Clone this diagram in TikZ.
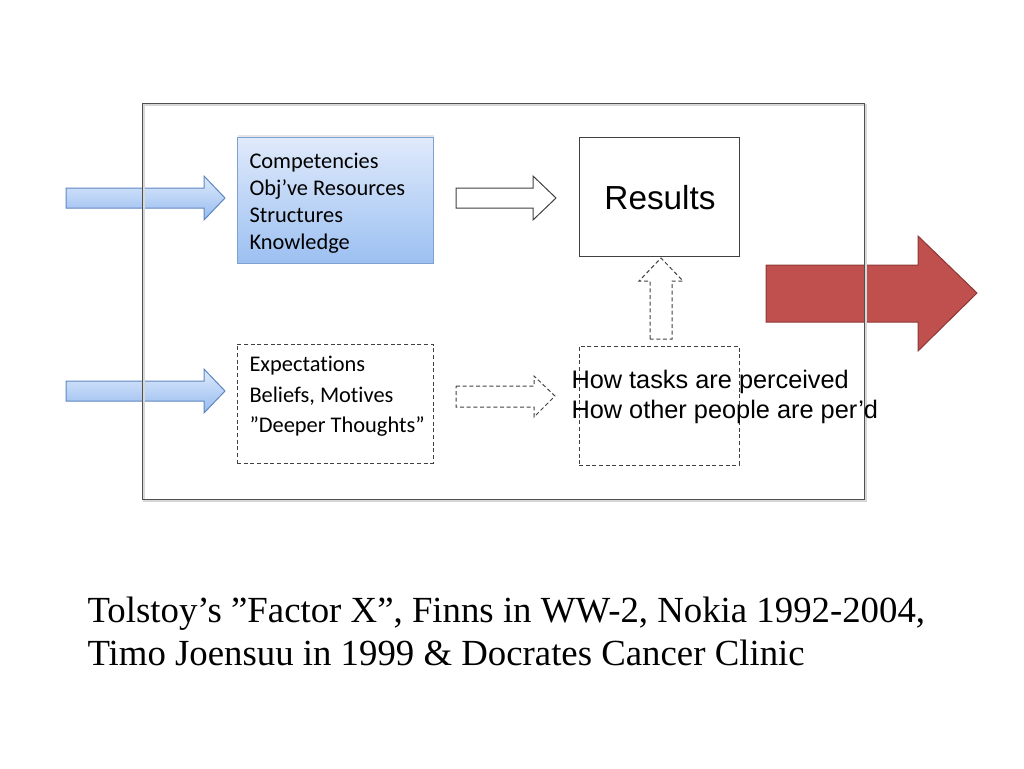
\documentclass[tikz,border=0pt]{standalone}
\usepackage{fontspec}
\setmainfont{Liberation Serif}
\newfontfamily\boxfont[Ligatures=NoCommon]{Carlito}
\newfontfamily\labelfont{Liberation Sans}
\usetikzlibrary{shadows}

\tikzset{every picture/.style={line width=0.75pt}}
\tikzset{
  dashline/.style={dash pattern={on 3pt off 2pt}},
  bluebox/.style={draw={rgb, 255:red, 127; green, 161; blue, 207}, top color={rgb, 255:red, 224; green, 234; blue, 251}, bottom color={rgb, 255:red, 156; green, 192; blue, 241}, drop shadow={shadow xshift=1pt, shadow yshift=1.5pt, opacity=0.2}},
  bluearrow/.style={draw={rgb, 255:red, 95; green, 135; blue, 192}, top color={rgb, 255:red, 222; green, 233; blue, 251}, bottom color={rgb, 255:red, 150; green, 188; blue, 240}},
  plainbox/.style={draw={rgb, 255:red, 64; green, 64; blue, 64}, fill=white},
  dashbox/.style={draw={rgb, 255:red, 64; green, 64; blue, 64}, dashline},
  boxtext/.style={anchor=north west, inner sep=0pt, align=left, font=\boxfont\fontsize{16.8}{20.25}\selectfont},
}

\begin{document}
\begin{tikzpicture}[x=0.75pt,y=0.75pt,yscale=-1,xscale=1]
\useasboundingbox (0,0) rectangle (1024,768);

%Shape: Block Arrows [left, upper and lower]
\draw [bluearrow] (66,188) -- (204,188) -- (204,176) -- (225,198) -- (204,220) -- (204,208) -- (66,208) -- cycle ;
\draw [bluearrow] (66,381) -- (204,381) -- (204,369) -- (225,391) -- (204,413) -- (204,401) -- (66,401) -- cycle ;

%Shape: Rectangles
\node [bluebox, minimum width=147pt, minimum height=94.5pt, inner sep=0pt] (comp) at (335,200) {};
\node [plainbox, minimum width=120pt, minimum height=89.25pt, inner sep=0pt] (results) at (659,196.5) {};
\node [dashbox, minimum width=147pt, minimum height=89.25pt, inner sep=0pt] (expect) at (335,403.5) {};
\node [dashbox, minimum width=120pt, minimum height=89.25pt, inner sep=0pt] (percv) at (659,405.5) {};

%Shape: Block Arrows [middle]
\draw [draw={rgb, 255:red, 64; green, 64; blue, 64}, fill=white] (456,188) -- (533,188) -- (533,176) -- (556,198) -- (533,220) -- (533,208) -- (456,208) -- cycle ;
\draw [draw={rgb, 255:red, 64; green, 64; blue, 64}, dashline] (456,386) -- (534,386) -- (534,376) -- (555,396) -- (534,417) -- (534,407) -- (456,407) -- cycle ;
\draw [draw={rgb, 255:red, 64; green, 64; blue, 64}, dashline] (650,339) -- (650,281) -- (639,281) -- (661,258) -- (683,281) -- (672,281) -- (672,339) -- cycle ;

%Shape: Block Arrow [output]
\draw [draw={rgb, 255:red, 140; green, 56; blue, 54}, fill={rgb, 255:red, 192; green, 80; blue, 77}] (766,265) -- (918,265) -- (918,236) -- (977,293) -- (918,351) -- (918,322) -- (766,322) -- cycle ;

%Shape: Rectangle [frame]
\draw [draw={rgb, 255:red, 215; green, 215; blue, 215}, line width=1.5pt] (144,105) rectangle (866,501) ;
\draw [draw={rgb, 255:red, 80; green, 80; blue, 80}] (142,103) rectangle (864,499) ;

% Text Node
\node [boxtext] (comptext) at (249,153) {Competencies\\Obj’ve Resources\\Structures\\Knowledge};
% Text Node
\node [boxtext, font=\boxfont\fontsize{16.8}{22.9}\selectfont] (expecttext) at (249,356) {Expectations\\Beliefs, Motives\\”Deeper Thoughts”};
% Text Node
\node [inner sep=0pt, font=\labelfont\fontsize{25}{30}\selectfont] (restext) at (660,198) {Results};
% Text Node
\node [anchor=west, inner sep=0pt, align=left, font=\labelfont\fontsize{19}{22.5}\selectfont] (percvtext) at (571,397) {How tasks are perceived\\How other people are per’d};
% Text Node
\node [anchor=north west, inner sep=0pt, align=left, font=\fontsize{27.6}{32.25}\selectfont] (caption) at (87,596) {Tolstoy’s ”Factor X”, Finns in WW-2, Nokia 1992-2004,\\Timo Joensuu in 1999 \& Docrates Cancer Clinic};

\end{tikzpicture}
\end{document}
